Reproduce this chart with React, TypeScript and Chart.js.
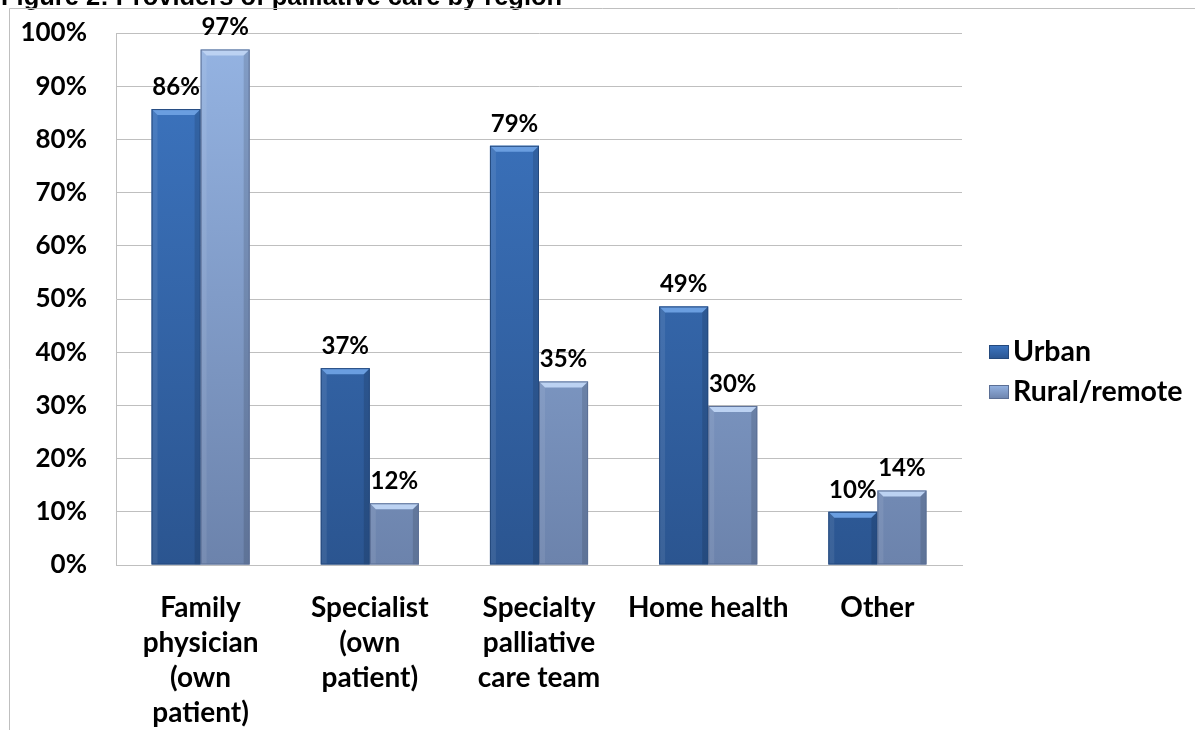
import React, { useEffect, useRef } from "react";
import { Chart, registerables } from "chart.js";

Chart.register(...registerables);

const TITLE = "Figure 2: Providers of palliative care by region";
const categories: string[][] = [
  ["Family", "physician", "(own", "patient)"],
  ["Specialist", "(own", "patient)"],
  ["Specialty", "palliative", "care team"],
  ["Home health"],
  ["Other"],
];
const seriesNames = ["Urban", "Rural/remote"];
const urban = [85.7, 37, 78.8, 48.6, 10];
const rural = [96.9, 11.6, 34.5, 29.9, 14];
const yTicks = [0, 10, 20, 30, 40, 50, 60, 70, 80, 90, 100];

const FONT = "Lato";
const palette = [
  { top: "#3D76C2", bottom: "#2B5590", bevel: "#6A9EE0", dark: "#24497D" },
  { top: "#95B4E3", bottom: "#6C83AC", bevel: "#BCD2F2", dark: "#5B6F95" },
];

function gradientFor(idx: number) {
  return (ctx: any) => {
    const chart = ctx.chart;
    const area = chart.chartArea;
    if (!area) return palette[idx].top;
    const g = chart.ctx.createLinearGradient(0, area.top, 0, area.bottom);
    g.addColorStop(0, palette[idx].top);
    g.addColorStop(1, palette[idx].bottom);
    return g;
  };
}

const framePlugin = {
  id: "frame",
  beforeDraw(chart: any) {
    const ctx = chart.ctx;
    ctx.save();
    ctx.fillStyle = "#ffffff";
    ctx.fillRect(0, 0, chart.width, chart.height);
    ctx.fillStyle = "#000";
    ctx.font = "bold 25.5px 'Liberation Sans', Arial";
    ctx.textBaseline = "alphabetic";
    ctx.textAlign = "left";
    ctx.fillText(TITLE, 1, 5);
    ctx.strokeStyle = "#BFBFBF";
    ctx.lineWidth = 1;
    ctx.beginPath();
    ctx.moveTo(9.5, chart.height);
    ctx.lineTo(9.5, 8.5);
    ctx.lineTo(chart.width, 8.5);
    ctx.stroke();
    ctx.restore();
  },
};

const bevelPlugin = {
  id: "bevel",
  afterDatasetsDraw(chart: any) {
    const ctx = chart.ctx;
    ctx.save();
    chart.data.datasets.forEach((ds: any, di: number) => {
      const meta = chart.getDatasetMeta(di);
      meta.data.forEach((el: any, i: number) => {
        const { x, y, width, base } = el.getProps(["x", "y", "width", "base"], true);
        const l = x - width / 2;
        const r = x + width / 2;
        const b = 6;
        ctx.fillStyle = palette[di].bevel;
        ctx.beginPath();
        ctx.moveTo(l, y);
        ctx.lineTo(r, y);
        ctx.lineTo(r - b, y + b);
        ctx.lineTo(l + b, y + b);
        ctx.closePath();
        ctx.fill();
        ctx.fillStyle = "rgba(0,0,0,0.12)";
        ctx.beginPath();
        ctx.moveTo(r, y);
        ctx.lineTo(r, base);
        ctx.lineTo(r - b, base);
        ctx.lineTo(r - b, y + b);
        ctx.closePath();
        ctx.fill();
        ctx.fillStyle = "rgba(255,255,255,0.08)";
        ctx.beginPath();
        ctx.moveTo(l, y);
        ctx.lineTo(l + b, y + b);
        ctx.lineTo(l + b, base);
        ctx.lineTo(l, base);
        ctx.closePath();
        ctx.fill();
        ctx.strokeStyle = palette[di].dark;
        ctx.lineWidth = 1;
        ctx.strokeRect(l + 0.5, y + 0.5, width - 1, base - y - 1);
        const v = ds.data[i];
        ctx.fillStyle = "#000";
        ctx.font = `bold 24px ${FONT}`;
        ctx.textAlign = "center";
        ctx.textBaseline = "middle";
        ctx.fillText(Math.round(v) + "%", x, y - 22);
      });
    });
    ctx.restore();
  },
};

const legendPlugin = {
  id: "customLegend",
  afterDraw(chart: any) {
    const ctx = chart.ctx;
    ctx.save();
    const x0 = 989;
    const centers = [352, 392];
    chart.data.datasets.forEach((ds: any, di: number) => {
      const cy = centers[di];
      const g = ctx.createLinearGradient(0, cy - 7, 0, cy + 7);
      g.addColorStop(0, palette[di].top);
      g.addColorStop(1, palette[di].bottom);
      ctx.fillStyle = g;
      ctx.fillRect(x0, cy - 7, 20, 14);
      ctx.strokeStyle = palette[di].dark;
      ctx.lineWidth = 1;
      ctx.strokeRect(x0 + 0.5, cy - 6.5, 19, 13);
      ctx.fillStyle = "#000";
      ctx.font = `bold 28.5px ${FONT}`;
      ctx.textAlign = "left";
      ctx.textBaseline = "middle";
      ctx.fillText(ds.label, 1013, cy);
    });
    ctx.restore();
  },
};

export default function App() {
  const ref = useRef<HTMLCanvasElement | null>(null);
  useEffect(() => {
    if (!ref.current) return;
    const chart = new Chart(ref.current, {
      type: "bar",
      data: {
        labels: categories,
        datasets: [
          { label: seriesNames[0], data: urban, backgroundColor: gradientFor(0), borderWidth: 0 },
          { label: seriesNames[1], data: rural, backgroundColor: gradientFor(1), borderWidth: 0 },
        ],
      },
      options: {
        responsive: true,
        maintainAspectRatio: false,
        animation: false,
        layout: { padding: { left: 10, top: 33, right: 233, bottom: 0 } },
        datasets: { bar: { categoryPercentage: 0.58, barPercentage: 1 } },
        plugins: {
          legend: { display: false },
          title: { display: false },
          tooltip: { enabled: false },
        },
        scales: {
          x: {
            grid: { display: false, drawTicks: false },
            border: { display: true, color: "#BFBFBF" },
            ticks: {
              color: "#000",
              font: { family: FONT, size: 28, weight: "bold", lineHeight: 35 / 28 },
              padding: 25,
              maxRotation: 0,
              autoSkip: false,
            },
            afterFit(scale: any) {
              scale.height = 165;
              scale.paddingLeft = 0;
              scale.paddingRight = 0;
            },
          },
          y: {
            min: 0,
            max: 100,
            afterBuildTicks(scale: any) {
              scale.ticks = yTicks.map((v) => ({ value: v }));
            },
            grid: { color: "#BFBFBF", drawTicks: false },
            border: { display: true, color: "#BFBFBF" },
            ticks: {
              color: "#000",
              font: { family: FONT, size: 26, weight: "bold" },
              padding: 29,
              callback: (v: any) => v + "%",
            },
            afterFit(scale: any) {
              scale.width = 106;
              scale.paddingTop = 0;
              scale.paddingBottom = 0;
            },
          },
        },
      },
      plugins: [framePlugin, bevelPlugin, legendPlugin],
    });
    return () => chart.destroy();
  }, []);
  return (
    <div style={{ position: "absolute", left: 0, top: 0, width: 1195, height: 730 }}>
      <canvas ref={ref} />
    </div>
  );
}
